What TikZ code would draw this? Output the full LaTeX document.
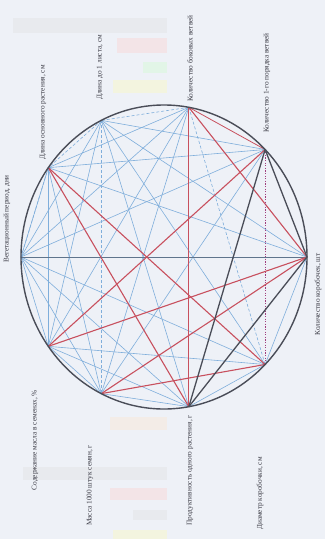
\documentclass[tikz,border=0pt]{standalone}
\usepackage{fontspec}
\setmainfont{Liberation Serif}
\definecolor{bgc}{HTML}{EEF1F7}
\definecolor{bluec}{HTML}{7FAEDB}
\definecolor{redc}{HTML}{C8505E}
\definecolor{darkc}{HTML}{4A4D58}
\definecolor{txtc}{HTML}{3A3A44}
\begin{document}
\begin{tikzpicture}[x=1pt,y=-1pt,
  vtx/.style={shape=coordinate},
  lbl/.style={rotate=90,inner sep=0pt,font=\fontsize{7.3}{8}\selectfont,text=txtc},
  bl/.style={draw=bluec,line width=0.6pt},
  bld/.style={draw=bluec,line width=0.6pt,dash pattern=on 3pt off 2pt},
  rd/.style={draw=redc,line width=1.1pt},
  rdd/.style={draw=redc!80!blue,line width=0.8pt,dash pattern=on 1.2pt off 1.4pt},
  dk/.style={draw=darkc,line width=1.3pt},
  ring/.style={draw=darkc,line width=1.4pt},
  ghost/.style={fill opacity=0.35,draw=none}]
\fill[bgc] (0,0) rectangle (325,539);
\useasboundingbox (0,0) rectangle (325,539);
% faint bleed-through blocks
\fill[ghost,fill=gray!25] (13,18) rectangle (167,33);
\fill[ghost,fill=red!20] (117,38) rectangle (167,53);
\fill[ghost,fill=green!20] (143,62) rectangle (167,73);
\fill[ghost,fill=yellow!30] (113,80) rectangle (167,93);
\fill[ghost,fill=orange!20] (110,417) rectangle (167,430);
\fill[ghost,fill=gray!25] (23,467) rectangle (167,480);
\fill[ghost,fill=red!20] (110,488) rectangle (167,500);
\fill[ghost,fill=gray!25] (133,510) rectangle (167,520);
\fill[ghost,fill=yellow!30] (113,530) rectangle (167,539);
% vertices on the ellipse
\node[vtx] (A) at ({164+143*cos(-80)},{257+152*sin(-80)}) {};
\node[vtx] (B) at ({164+143*cos(-116)},{257+152*sin(-116)}) {};
\node[vtx] (C) at ({164+143*cos(-144)},{257+152*sin(-144)}) {};
\node[vtx] (D) at ({164+143*cos(-45)},{257+152*sin(-45)}) {};
\node[vtx] (E) at ({164+143*cos(180)},{257+152*sin(180)}) {};
\node[vtx] (F) at ({164+143*cos(0)},{257+152*sin(0)}) {};
\node[vtx] (G) at ({164+143*cos(144)},{257+152*sin(144)}) {};
\node[vtx] (H) at ({164+143*cos(80)},{257+152*sin(80)}) {};
\node[vtx] (I) at ({164+143*cos(116)},{257+152*sin(116)}) {};
\node[vtx] (J) at ({164+143*cos(45)},{257+152*sin(45)}) {};
% blue links
\draw[bl] (E) -- (A);
\draw[bl] (E) -- (B);
\draw[bl] (E) -- (C);
\draw[bl] (E) -- (D);
\draw[bl] (E) -- (I);
\draw[bl] (E) -- (H);
\draw[bl] (E) -- (J);
\draw[bl] (E) -- (G);
\draw[bl] (C) -- (A);
\draw[bl] (C) -- (D);
\draw[bl] (C) -- (F);
\draw[bl] (C) -- (G);
\draw[bl] (C) -- (I);
\draw[bl] (B) -- (F);
\draw[bl] (B) -- (G);
\draw[bl] (B) -- (H);
\draw[bl] (B) -- (J);
\draw[bl] (A) -- (G);
\draw[bl] (A) -- (I);
\draw[bl] (D) -- (B);
\draw[bl] (D) -- (I);
\draw[bl] (G) -- (J);
\draw[bl] (G) -- (H);
\draw[bl] (G) -- (I);
\draw[bl] (J) -- (H);
\draw[bl] (F) -- (J);
\draw[bl] (H) -- (I);
\draw[bld] (A) -- (B);
\draw[bld] (B) -- (I);
\draw[bld] (B) -- (C);
\draw[bld] (A) -- (J);
\draw[bld] (C) -- (E);
\draw[draw=darkc!60!bluec,line width=0.8pt] (E) -- (F);
% red links
\draw[rd] (A) -- (H);
\draw[rd] (A) -- (F);
\draw[rd,line width=0.8pt] (A) -- (D);
\draw[rd] (C) -- (J);
\draw[rd] (C) -- (H);
\draw[rd] (G) -- (F);
\draw[rd] (G) -- (D);
\draw[rd] (I) -- (F);
\draw[rd] (I) -- (J);
\draw[rdd] (D) -- (J);
% dark links
\draw[dk] (D) -- (F);
\draw[dk] (D) -- (H);
\draw[dk] (F) -- (H);
% outline
\draw[ring] (164,257) ellipse [x radius=143pt, y radius=152pt];
% labels
\node[lbl,anchor=west] (la) at (190,102) {Количество боковых ветвей};
\node[lbl,anchor=west] (lb) at (100,100) {Длина до 1 листа, см};
\node[lbl,anchor=west] (lc) at (43,160) {Длина основного растения, см};
\node[lbl,anchor=west] (ld) at (267,133) {Количество 1-го порядка ветвей};
\node[lbl,anchor=west] (le) at (7,263) {Вегетационный период, дни};
\node[lbl,anchor=east] (lf) at (318,253) {Количество коробочек, шт};
\node[lbl,anchor=east] (lg) at (35,390) {Содержание масла в семенах, \%};
\node[lbl,anchor=east] (li) at (90,445) {Масса 1000 штук семян, г};
\node[lbl,anchor=east] (lh) at (190,415) {Продуктивность одного растения, г};
\node[lbl,anchor=east] (lj) at (260,457) {Диаметр коробочки, см};
\end{tikzpicture}
\end{document}
